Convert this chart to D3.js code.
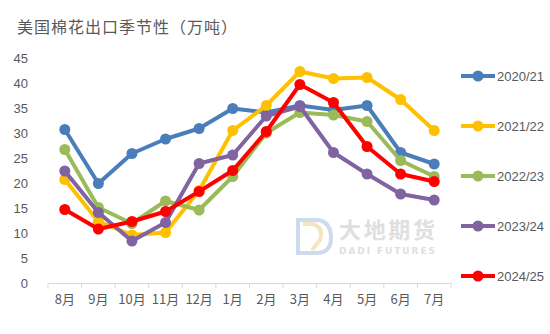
<!DOCTYPE html>
<html><head><meta charset="utf-8">
<script src="https://cdn.jsdelivr.net/npm/d3@7"></script>
<style>body{margin:0;background:#fff}svg{display:block;font-family:"Noto Sans CJK SC","Noto Sans",sans-serif}</style>
</head><body><svg id="c" width="550" height="334"></svg>
<script>
const months = ["8月","9月","10月","11月","12月","1月","2月","3月","4月","5月","6月","7月"];
const seriesNames = ["2020/21","2021/22","2022/23","2023/24","2024/25"];
const s2020 = [30.7,19.9,25.9,28.8,30.9,34.9,34.1,35.5,34.6,35.5,26.1,23.8];
const s2021 = [20.7,12.3,9.6,10.1,18.5,30.5,35.5,42.3,40.9,41.1,36.7,30.5];
const s2022 = [26.7,15.1,11.9,16.4,14.6,21.3,30.0,34.1,33.6,32.3,24.5,21.3];
const s2023 = [22.4,14.1,8.4,12.1,23.9,25.6,33.4,35.3,26.1,21.8,17.8,16.6];
const s2024 = [14.7,10.8,12.3,14.3,18.3,22.5,30.3,39.7,36.1,27.3,21.8,20.3];
const yTicks = [0,5,10,15,20,25,30,35,40,45];
const colors = ["#4A7EBB","#FFC000","#9BBB59","#8064A2","#FF0000"];
const allSeries = [s2020,s2021,s2022,s2023,s2024];

const svg = d3.select("#c");
const x = d3.scaleBand().domain(months).range([48,451]);
const y = d3.scaleLinear().domain([0,45]).range([283,58]);

svg.append("text").attr("x",17).attr("y",33).attr("font-size",16).attr("letter-spacing",1).attr("fill","#595959").text("美国棉花出口季节性（万吨）");

// y labels
svg.append("g").selectAll("text").data(yTicks).join("text")
  .attr("x",28).attr("y",d=>y(d)+4.5).attr("text-anchor","end")
  .attr("font-size",13).attr("fill","#595959").attr("font-family","Liberation Sans, Arial, sans-serif").text(d=>d);

// x axis
const xAxis = d3.axisBottom(x).tickSize(0).tickPadding(12);
const gx = svg.append("g").attr("transform","translate(0,283)").call(xAxis);
gx.select(".domain").attr("stroke","#d9d9d9").attr("stroke-width",1);
gx.selectAll("text").attr("font-size",13).attr("fill","#595959").attr("font-family","Noto Sans CJK SC, sans-serif");
const bounds = months.map(m=>x(m)).concat([x.range()[1]]);
gx.selectAll(".bt").data(bounds).join("line").attr("class","bt")
  .attr("x1",d=>d).attr("x2",d=>d).attr("y1",0).attr("y2",5).attr("stroke","#d9d9d9");

// watermark
const wm = svg.append("g").attr("opacity",0.9);
wm.append("path").attr("d","M298,220 L318,220 Q331,222 331,238 Q331,252 318,253 L298,253 Z")
  .attr("fill","none").attr("stroke","#c9d8ea").attr("stroke-width",4);
wm.append("path").attr("d","M303,224 L313,224 Q324,228 320,240 L312,250")
  .attr("fill","none").attr("stroke","#f3e3b8").attr("stroke-width",4);
wm.append("text").attr("x",339).attr("y",238).attr("font-size",22).attr("font-weight","bold").attr("fill","#dcdcdc").attr("textLength",96).text("大地期货");
wm.append("text").attr("x",339).attr("y",254).attr("font-size",9).attr("font-weight","bold").attr("fill","#dcdcdc").attr("font-family","DejaVu Sans, sans-serif").attr("textLength",96).text("DADI FUTURES");

// lines
const line = d3.line().x((d,i)=>x(months[i])+x.bandwidth()/2).y(d=>y(d));
allSeries.forEach((s,k)=>{
  const g = svg.append("g");
  g.append("path").datum(s).attr("d",line).attr("fill","none").attr("stroke",colors[k]).attr("stroke-width",4).attr("stroke-linejoin","round");
  g.selectAll("circle").data(s).join("circle")
    .attr("cx",(d,i)=>x(months[i])+x.bandwidth()/2).attr("cy",d=>y(d)).attr("r",5.5).attr("fill",colors[k]);
});

// legend
const lg = svg.append("g").selectAll("g").data(seriesNames).join("g")
  .attr("transform",(d,i)=>`translate(0,${76+i*50})`);
lg.append("line").attr("x1",461).attr("x2",495).attr("stroke",(d,i)=>colors[i]).attr("stroke-width",4);
lg.append("circle").attr("cx",478).attr("r",5.5).attr("fill",(d,i)=>colors[i]);
lg.append("text").attr("x",497).attr("y",4.5).attr("font-size",13).attr("fill","#595959").attr("font-family","Liberation Sans, Arial, sans-serif").text(d=>d);
</script></body></html>
